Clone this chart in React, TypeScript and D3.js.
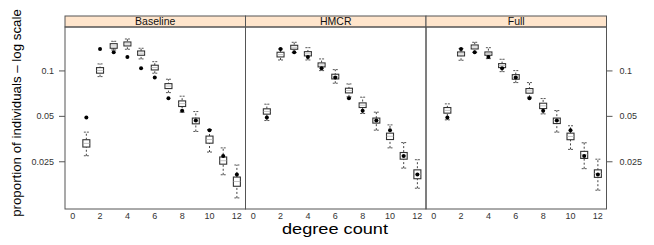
import React, { useRef, useEffect } from "react";
import { select, scaleLinear, scaleLog } from "d3";

// degree counts on the x axis
const degrees = [1, 2, 3, 4, 5, 6, 7, 8, 9, 10, 11, 12];
const panelNames = ["Baseline", "HMCR", "Full"];
const xTicks = [0, 2, 4, 6, 8, 10, 12];
const yTicks = [0.025, 0.05, 0.1];
const yTickLabels = ["0.025", "0.05", "0.1"];

// observed proportions (black dots), same in every panel
const observed = [0.0491, 0.1398, 0.133, 0.1238, 0.1042, 0.0903, 0.066, 0.0544, 0.0469, 0.0405, 0.0273, 0.0206];

// simulated boxes: [lower whisker, q1, median, q3, upper whisker]
const baseline = [
  [0.0274, 0.0313, 0.0331, 0.035, 0.0393],
  [0.0917, 0.0966, 0.1008, 0.1052, 0.1113],
  [0.1377, 0.1413, 0.1464, 0.1516, 0.1572],
  [0.1392, 0.1464, 0.1509, 0.1556, 0.1628],
  [0.1201, 0.127, 0.1312, 0.1356, 0.1413],
  [0.0966, 0.1015, 0.1053, 0.1091, 0.1152],
  [0.0718, 0.0764, 0.0794, 0.0824, 0.0881],
  [0.0533, 0.0581, 0.0607, 0.0633, 0.068],
  [0.0397, 0.0446, 0.0466, 0.0487, 0.0538],
  [0.029, 0.0332, 0.0351, 0.037, 0.0409],
  [0.0205, 0.0241, 0.0254, 0.0269, 0.0309],
  [0.0144, 0.0172, 0.0185, 0.0198, 0.0238],
];
const hmcr = [
  [0.0469, 0.0517, 0.0539, 0.0561, 0.0602],
  [0.1182, 0.1238, 0.1283, 0.133, 0.1398],
  [0.1322, 0.1392, 0.1435, 0.1479, 0.1548],
  [0.1182, 0.1257, 0.1299, 0.1342, 0.1426],
  [0.1005, 0.1063, 0.1096, 0.113, 0.1201],
  [0.0829, 0.0885, 0.0918, 0.0951, 0.102],
  [0.0673, 0.0715, 0.0741, 0.0768, 0.082],
  [0.0522, 0.0572, 0.0593, 0.0614, 0.067],
  [0.0405, 0.0451, 0.0469, 0.0487, 0.0533],
  [0.0309, 0.0351, 0.0369, 0.0387, 0.0439],
  [0.0227, 0.026, 0.0274, 0.0288, 0.0335],
  [0.0167, 0.0193, 0.0207, 0.0221, 0.0258],
];
const full = [
  [0.0474, 0.0525, 0.0548, 0.0572, 0.0605],
  [0.1177, 0.1257, 0.1296, 0.1336, 0.1405],
  [0.133, 0.1398, 0.1441, 0.1486, 0.1548],
  [0.1206, 0.127, 0.1302, 0.1336, 0.1426],
  [0.0989, 0.1052, 0.1085, 0.1118, 0.1195],
  [0.0837, 0.0881, 0.0913, 0.0945, 0.1005],
  [0.067, 0.0712, 0.0738, 0.0764, 0.0837],
  [0.0519, 0.0563, 0.0587, 0.0611, 0.0656],
  [0.0393, 0.0448, 0.0467, 0.0487, 0.0546],
  [0.0302, 0.035, 0.0368, 0.0387, 0.0433],
  [0.0225, 0.0263, 0.0278, 0.0293, 0.0334],
  [0.0162, 0.0197, 0.0209, 0.0221, 0.026],
];
const panelData = [baseline, hmcr, full];

const W = 654;
const H = 245;
const font = "Liberation Sans, Arial, Helvetica, sans-serif";

function App() {
  const svgRef = useRef<SVGSVGElement>(null);

  useEffect(() => {
    const svg = select(svgRef.current);
    svg.selectAll("*").remove();

    const top = 16, stripH = 11, bottom = 209;
    const left = 65, panelW = 180.5;

    const yScale = scaleLog().domain([0.01216, 0.1955]).range([bottom, top + stripH]);

    panelNames.forEach((name, p) => {
      const x0 = left + p * panelW;
      const x1 = x0 + panelW;
      const xScale = scaleLinear().domain([-0.56, 12.63]).range([x0, x1]);
      const g = svg.append("g");

      // strip
      g.append("rect")
        .attr("x", x0).attr("y", top)
        .attr("width", panelW).attr("height", stripH)
        .attr("fill", "#ffe5cc").attr("stroke", "#555").attr("stroke-width", 1);
      g.append("text")
        .attr("x", (x0 + x1) / 2).attr("y", top + 9)
        .attr("text-anchor", "middle")
        .attr("font-family", font).attr("font-size", 10.5)
        .attr("fill", "#111")
        .text(name);

      // panel frame
      g.append("rect")
        .attr("x", x0).attr("y", top + stripH)
        .attr("width", panelW).attr("height", bottom - top - stripH)
        .attr("fill", "none").attr("stroke", "#555").attr("stroke-width", 1);

      // x ticks labels
      g.selectAll(".xt")
        .data(xTicks)
        .join("text")
        .attr("class", "xt")
        .attr("x", (d) => xScale(d))
        .attr("y", 219)
        .attr("text-anchor", "middle")
        .attr("font-family", font).attr("font-size", 9)
        .attr("fill", "#333")
        .text((d) => d);

      const boxes = panelData[p];
      const bw = 7, cw = 5;

      // whiskers (dashed)
      g.selectAll(".wh")
        .data(boxes)
        .join("line")
        .attr("class", "wh")
        .attr("x1", (d, i) => xScale(degrees[i]))
        .attr("x2", (d, i) => xScale(degrees[i]))
        .attr("y1", (d) => yScale(d[0]))
        .attr("y2", (d) => yScale(d[4]))
        .attr("stroke", "#444").attr("stroke-dasharray", "2,2");

      // whisker caps
      [0, 4].forEach((k) => {
        g.selectAll(".cap" + k)
          .data(boxes)
          .join("line")
          .attr("class", "cap" + k)
          .attr("x1", (d, i) => xScale(degrees[i]) - cw / 2)
          .attr("x2", (d, i) => xScale(degrees[i]) + cw / 2)
          .attr("y1", (d) => yScale(d[k]))
          .attr("y2", (d) => yScale(d[k]))
          .attr("stroke", "#555").attr("stroke-dasharray", "2,1");
      });

      // boxes
      g.selectAll(".box")
        .data(boxes)
        .join("rect")
        .attr("class", "box")
        .attr("x", (d, i) => xScale(degrees[i]) - bw / 2)
        .attr("y", (d) => yScale(d[3]))
        .attr("width", bw)
        .attr("height", (d) => yScale(d[1]) - yScale(d[3]))
        .attr("fill", "white").attr("stroke", "#333").attr("stroke-width", 1.1);

      // medians
      g.selectAll(".med")
        .data(boxes)
        .join("line")
        .attr("class", "med")
        .attr("x1", (d, i) => xScale(degrees[i]) - bw / 2)
        .attr("x2", (d, i) => xScale(degrees[i]) + bw / 2)
        .attr("y1", (d) => yScale(d[2]))
        .attr("y2", (d) => yScale(d[2]))
        .attr("stroke", "#aaa").attr("stroke-width", 0.7);

      // observed dots
      g.selectAll(".dot")
        .data(observed)
        .join("circle")
        .attr("class", "dot")
        .attr("cx", (d, i) => xScale(degrees[i]))
        .attr("cy", (d) => yScale(d))
        .attr("r", 2)
        .attr("fill", "black");
    });

    // y axis, left of first panel and right of last one
    const rightEdge = left + 3 * panelW;
    yTicks.forEach((t, i) => {
      svg.append("line")
        .attr("x1", left - 6).attr("x2", left)
        .attr("y1", yScale(t)).attr("y2", yScale(t))
        .attr("stroke", "#555");
      svg.append("text")
        .attr("x", left - 11).attr("y", yScale(t) + 3)
        .attr("text-anchor", "end")
        .attr("font-family", font).attr("font-size", 9).attr("fill", "#333")
        .text(yTickLabels[i]);
      svg.append("line")
        .attr("x1", rightEdge).attr("x2", rightEdge + 6)
        .attr("y1", yScale(t)).attr("y2", yScale(t))
        .attr("stroke", "#555");
      svg.append("text")
        .attr("x", rightEdge + 13).attr("y", yScale(t) + 3)
        .attr("text-anchor", "start")
        .attr("font-family", font).attr("font-size", 9).attr("fill", "#333")
        .text(yTickLabels[i]);
    });

    // axis titles
    svg.append("text")
      .attr("transform", "translate(21,113) rotate(-90)")
      .attr("text-anchor", "middle")
      .attr("font-family", font).attr("font-size", 13.3)
      .attr("fill", "#000")
      .text("proportion of individuals \u2013 log scale");
    svg.append("text")
      .attr("x", 335).attr("y", 234)
      .attr("text-anchor", "middle")
      .attr("font-family", font).attr("font-size", 14)
      .attr("textLength", 106).attr("lengthAdjust", "spacingAndGlyphs")
      .attr("fill", "#000")
      .text("degree count");
  }, []);

  return (
    <svg ref={svgRef} width={W} height={H}
      style={{ position: "absolute", left: 0, top: 0, background: "white" }} />
  );
}

export default App;
